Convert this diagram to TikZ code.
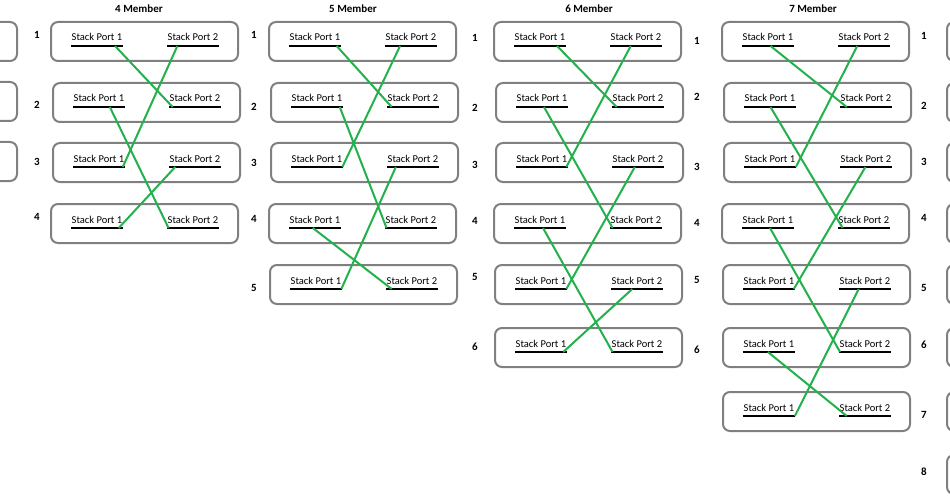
\documentclass[tikz,border=0pt]{standalone}
\usepackage{fontspec}
\setmainfont{Carlito}
\usetikzlibrary{calc}

\definecolor{boxgray}{RGB}{128,128,128}
\definecolor{linkgreen}{RGB}{34,177,76}

\tikzset{
  member/.style={draw=boxgray, line width=2pt, rounded corners=7pt,
    minimum width=187pt, minimum height=39pt, inner sep=0pt, outer sep=0pt,
    anchor=north west},
  port/.style={inner xsep=0.5pt, inner ysep=0pt, anchor=base west,
    font=\fontsize{10.5}{12}\selectfont},
  bar/.style={line width=2.5pt},
  link/.style={draw=linkgreen, line width=2pt},
  title/.style={font=\bfseries\fontsize{11}{13}\selectfont},
  num/.style={font=\bfseries\fontsize{11}{13}\selectfont},
}

\begin{document}
\begin{tikzpicture}[x=1pt, y=-1pt]
    \useasboundingbox (0,0) rectangle (950,500);
    \clip (0,0) rectangle (950,500);
    % titles
    \node[title] (t4) at (139,9) {4 Member};
    \node[title] (t5) at (353,9) {5 Member};
    \node[title] (t6) at (589,9) {6 Member};
    \node[title] (t7) at (813,9) {7 Member};
    % members of each stack
    \foreach \col/\x in {4/51, 5/269, 6/494, 7/722} {
      \foreach \row/\dx/\t in {1/0/22, 2/2/83, 3/2/143, 4/0/204, 5/1/265, 6/1/328, 7/1/392} {
        \ifnum\row>\col\relax\else
          \node[member] (m\col r\row) at (\x+\dx,\t) {};
          \node[port] (m\col r\row a) at ($(m\col r\row.north west)+(20,19)$) {Stack Port 1};
          \node[port] (m\col r\row b) at ($(m\col r\row.north west)+(116,19)$) {Stack Port 2};
          \draw[bar] ($(m\col r\row a.base west)+(0,5)$) -- ($(m\col r\row a.base east)+(0,5)$);
          \draw[bar] ($(m\col r\row b.base west)+(0,5)$) -- ($(m\col r\row b.base east)+(0,5)$);
        \fi
      }
    }
    % cut off members at the edges
    \foreach \row/\t in {1/22, 2/82, 3/142}
      \node[member] (m3r\row) at (-170,\t) {};
    \foreach \row/\t in {1/22, 2/83, 3/143, 4/204, 5/265, 6/328, 7/392, 8/455}
      \node[member] (m8r\row) at (947,\t) {};
    % member numbers
    \foreach \x/\ys in {37/{35,105,162,217}, 254/{35,107,163,219,288},
        475/{38,108,165,221,277,347}, 697/{41,97,167,223,280,350},
        924/{36,106,162,218,288,345,415,472}} {
      \foreach \y [count=\k] in \ys
        \node[num] (n\x-\k) at (\x,\y) {\k};
    }
    % stack cables
    \foreach \col/\ra/\pa/\fa/\rb/\pb/\fb in {
        4/1/a/.85/2/b/.07, 4/1/b/.20/3/a/.96, 4/2/a/.71/4/b/.03, 4/3/b/.12/4/a/.92,
        5/1/a/.92/2/b/.09, 5/1/b/.29/3/a/.99, 5/2/a/.94/4/b/.03, 5/3/b/.17/5/a/.99,
        5/4/a/.46/5/b/.11,
        6/1/a/.83/2/b/.09, 6/1/b/.40/3/a/.97, 6/2/a/.54/4/b/.05, 6/3/b/.44/5/a/.99,
        6/4/a/.56/6/b/.03, 6/5/b/.41/6/a/.93,
        7/1/a/.55/2/b/.13, 7/1/b/.37/3/a/1, 7/2/a/.51/4/b/.09, 7/3/b/.49/5/a/.98,
        7/4/a/.54/6/b/.02, 7/5/b/.38/7/a/1, 7/6/a/.48/7/b/.15}
      \draw[link] ($(m\col r\ra\pa.base west)!\fa!(m\col r\ra\pa.base east)+(0,5)$)
        -- ($(m\col r\rb\pb.base west)!\fb!(m\col r\rb\pb.base east)+(0,5)$);
\end{tikzpicture}
\end{document}
